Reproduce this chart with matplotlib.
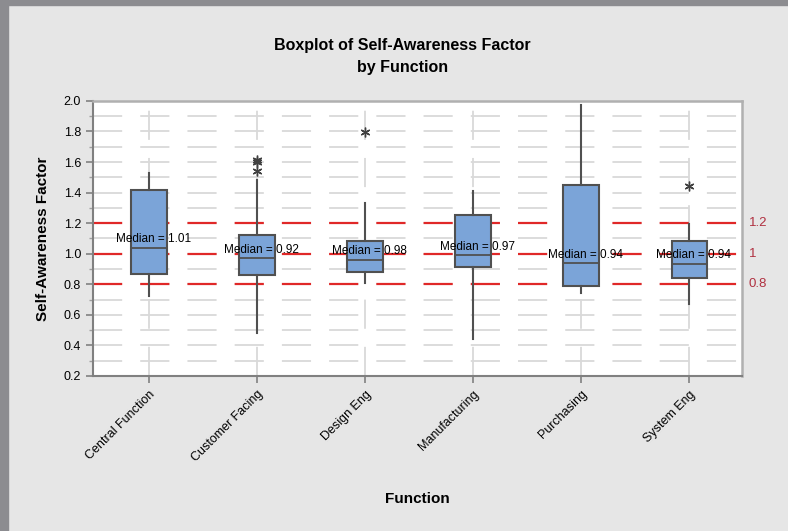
import matplotlib.pyplot as plt
import matplotlib.patches as mpatches
import numpy as np

plt.rcParams['font.family'] = ['Liberation Sans', 'DejaVu Sans']
plt.rcParams['lines.scale_dashes'] = False

# values
functions = ['Central Function', 'Customer Facing', 'Design Eng',
             'Manufacturing', 'Purchasing', 'System Eng']
whis_lo = [0.72, 0.48, 0.81, 0.445, 0.74, 0.67]
q1      = [0.87, 0.86, 0.88, 0.91, 0.79, 0.84]
median  = [1.04, 0.97, 0.96, 0.99, 0.94, 0.935]
q3      = [1.42, 1.12, 1.08, 1.25, 1.45, 1.08]
whis_hi = [1.53, 1.48, 1.33, 1.41, 1.97, 1.195]
outliers = [[], [1.54, 1.60, 1.615], [1.795], [], [], [1.44]]
median_labels = ['1.01', '0.92', '0.98', '0.97', '0.94', '0.94']

ref_lines = [1.2, 1.0, 0.8]
ref_labels = ['1.2', '1', '0.8']

yticks = np.arange(0.2, 2.01, 0.2)
yminor = np.arange(0.2, 2.01, 0.1)

fig = plt.figure(figsize=(7.88, 5.31), dpi=100)
fig.patch.set_facecolor('#e6e6e6')

# screenshot frame at top and left
fig.patches.append(mpatches.Rectangle((0, 1 - 5 / 531), 1, 5 / 531, transform=fig.transFigure,
                                      color='#8c8c90', zorder=0))
fig.patches.append(mpatches.Rectangle((0, 0), 8 / 788, 1, transform=fig.transFigure,
                                      color='#8c8c90', zorder=0))

ax = fig.add_axes([0.118, 0.292, 0.824, 0.518])
ax.set_facecolor('white')

pos = np.arange(1, len(functions) + 1)

# grid
for y in yminor:
    ax.axhline(y, color='#d9d9d9', lw=1.3, dashes=(21, 13), zorder=0)
for x in pos:
    ax.axvline(x, color='#d9d9d9', lw=1.3, dashes=(21, 13), zorder=0)

# reference lines
for y, lab in zip(ref_lines, ref_labels):
    ax.axhline(y, color='#e02828', lw=1.6, dashes=(21, 13), zorder=1)
    ax.text(1.01, y, lab, transform=ax.get_yaxis_transform(), color='#b03040',
            fontsize=9.5, va='center', ha='left')

stats = []
for i in range(len(functions)):
    stats.append(dict(med=median[i], q1=q1[i], q3=q3[i], whislo=whis_lo[i],
                      whishi=whis_hi[i], fliers=outliers[i]))

ax.bxp(stats, positions=pos, widths=0.33, patch_artist=True, showcaps=False,
       boxprops=dict(facecolor='#7ba4d8', edgecolor='#505050', linewidth=1.5),
       whiskerprops=dict(color='#505050', linewidth=1.5),
       medianprops=dict(color='#505050', linewidth=1.3),
       flierprops=dict(marker=(6, 2, 0), markersize=7, markeredgecolor='#404040',
                       markeredgewidth=1.0, linestyle='none'),
       zorder=3)

for x, m, lab in zip(pos, median, median_labels):
    ax.annotate('Median = ' + lab, (x, m), xytext=(3, 6), textcoords='offset points',
                ha='center', va='center', fontsize=8.5, color='black', zorder=5)

ax.set_xlim(0.48, 6.49)
ax.set_ylim(0.2, 2.0)
ax.set_yticks(yticks)
ax.set_yticklabels(['%.1f' % v for v in yticks])
ax.set_yticks(yminor, minor=True)
ax.set_xticks(pos)
ax.set_xticklabels(functions, rotation=45, ha='right', va='top', rotation_mode='anchor')
ax.tick_params(axis='both', which='major', labelsize=9, color='#808080', length=5, width=1.2)
ax.tick_params(axis='y', which='minor', color='#a0a0a0', length=3, width=1)
ax.tick_params(axis='x', pad=4)

for side in ['left', 'bottom']:
    ax.spines[side].set_color('#808080')
    ax.spines[side].set_linewidth(1.5)
for side in ['top', 'right']:
    ax.spines[side].set_color('#b0b0b0')
    ax.spines[side].set_linewidth(1.8)

ax.set_ylabel('Self-Awareness Factor', fontsize=11, fontweight='bold', labelpad=10)
ax.set_xlabel('Function', fontsize=11, fontweight='bold', labelpad=20)

fig.text(0.511, 0.893, 'Boxplot of Self-Awareness Factor\nby Function', ha='center',
         va='center', fontsize=11.5, fontweight='bold', linespacing=1.6)

fig.savefig('out.png', dpi=100, facecolor=fig.get_facecolor())
